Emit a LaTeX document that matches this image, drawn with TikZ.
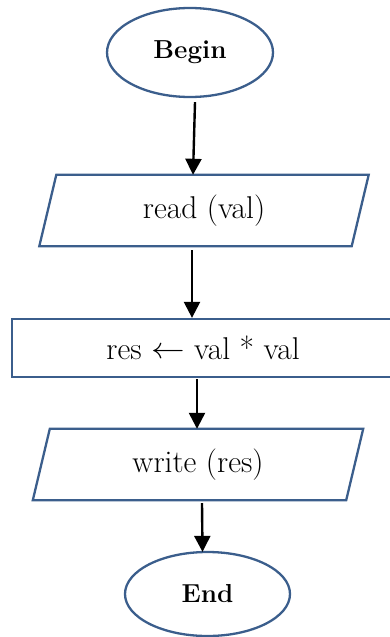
\documentclass[tikz,border=0pt]{standalone}
\usepackage{fontspec}
\usetikzlibrary{shapes.geometric,arrows.meta,calc}
\definecolor{outline}{RGB}{59,94,140}
\begin{document}
\begin{tikzpicture}[x=1pt,y=-1pt,
  terminal/.style={ellipse,draw=outline,line width=2.3pt,inner sep=0pt,
    font=\fontsize{26}{30}\selectfont\bfseries},
  iobox/.style={inner sep=0pt,font=\fontsize{31.5}{36}\selectfont},
  procbox/.style={rectangle,draw=outline,line width=2.3pt,inner sep=0pt,
    font=\fontsize{31.5}{36}\selectfont},
  flow/.style={draw=black,line width=2.4pt,-{Triangle[length=16pt,width=16pt]}},
  slantedge/.style={draw=outline,line width=2.3pt,line join=miter}]
\useasboundingbox (0,0) rectangle (390,637);

% terminals, input/output and process steps
\node[terminal,minimum width=166,minimum height=89] (b) at (190,52.5) {Begin};
\node[iobox,minimum width=312,minimum height=71] (r) at (204,210.5) {read (val)};
\node[procbox,minimum width=382,minimum height=58] (p) at (203,348)
  {res \raisebox{0.05em}{\scalebox{1.35}[1.2]{$\leftarrow$}} val * val};
\node[iobox,minimum width=313,minimum height=71] (w) at (198,464.5) {write (res)};
\node[terminal,minimum width=165,minimum height=84] (e) at (207.5,594) {End};

% parallelogram outlines around the input/output nodes
\draw[slantedge] ($(r.north west)+(8.5,0)$) -- ($(r.north east)+(8.5,0)$)
  -- ($(r.south east)+(-8.5,0)$) -- ($(r.south west)+(-8.5,0)$) -- cycle;
\draw[slantedge] ($(w.north west)+(8.5,0)$) -- ($(w.north east)+(8.5,0)$)
  -- ($(w.south east)+(-8.5,0)$) -- ($(w.south west)+(-8.5,0)$) -- cycle;

% control flow
\draw[flow] ($(b.south)+(5,4)$) -- ($(r.north)+(-11,0)$);
\draw[flow] ($(r.south)+(-12,4)$) -- ($(p.north)+(-11,0)$);
\draw[flow] ($(p.south)+(-6,1)$) -- ($(w.north)+(-1,0)$);
\draw[flow] ($(w.south)+(4,3)$) -- ($(e.north)+(-5,1)$);
\end{tikzpicture}
\end{document}
